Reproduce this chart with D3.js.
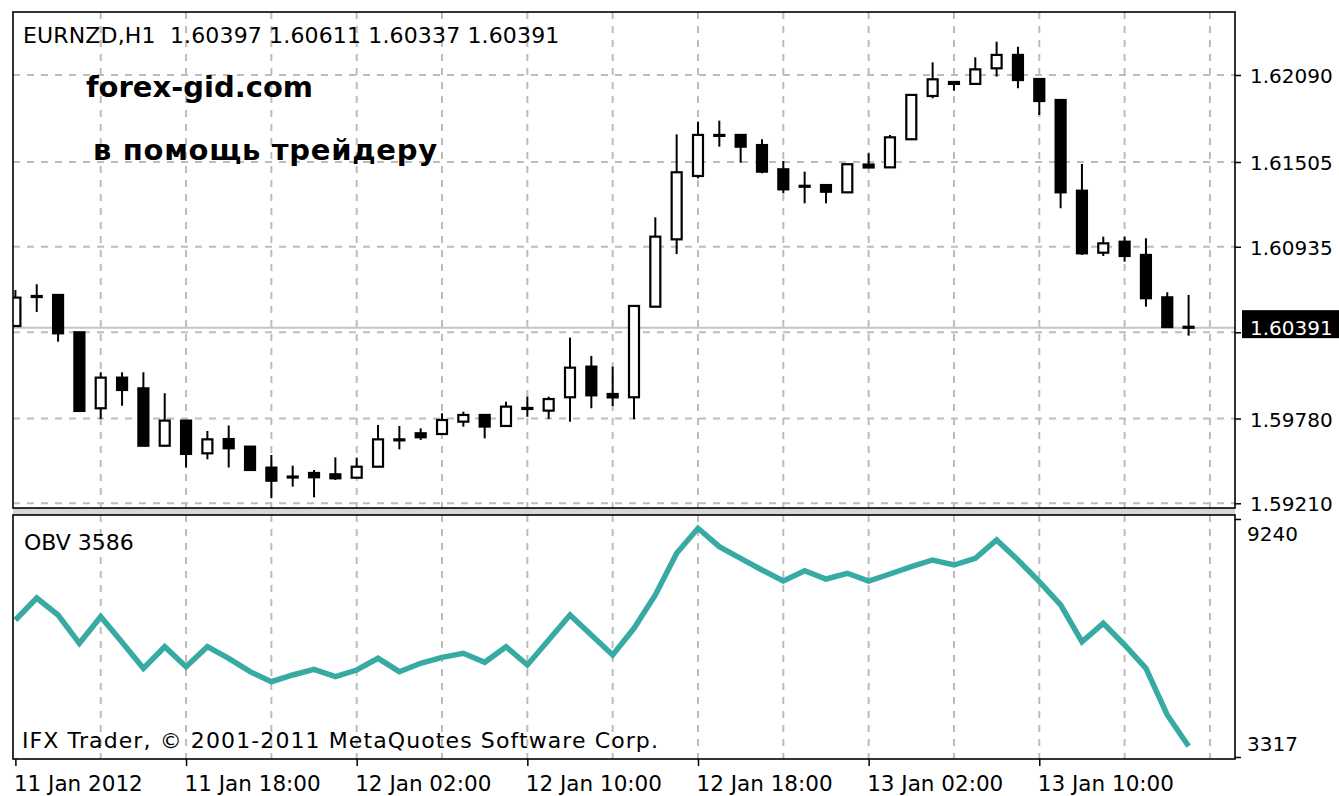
<!DOCTYPE html>
<html>
<head>
<meta charset="utf-8">
<script src="https://cdn.jsdelivr.net/npm/d3@7"></script>
<style>
body { margin: 0; background: #fff; }
svg { display: block; }
text { font-family: "DejaVu Sans", sans-serif; fill: #000; }
</style>
</head>
<body>
<svg width="1339" height="796"></svg>
<script>
// EURNZD H1, 11 Jan 10:00 .. 13 Jan 17:00 (56 bars)
const OPEN = [1.60402, 1.60597, 1.60611, 1.60360, 1.59849, 1.60055, 1.59983, 1.59597, 1.59766, 1.59546,
	1.59642, 1.59591, 1.59450, 1.59390, 1.59414, 1.59405, 1.59382, 1.59456, 1.59636, 1.59681,
	1.59676, 1.59759, 1.59804, 1.59730, 1.59848, 1.59833, 1.59923, 1.60129, 1.59945, 1.59923,
	1.60532, 1.60985, 1.61411, 1.61683, 1.61687, 1.61619, 1.61456, 1.61345, 1.61350, 1.61301,
	1.61488, 1.61469, 1.61658, 1.61949, 1.62043, 1.62030, 1.62135, 1.62225, 1.62063, 1.61922,
	1.61312, 1.60895, 1.60969, 1.60880, 1.60595, 1.60397];
const HIGH = [1.60644, 1.60683, 1.60615, 1.60362, 1.60091, 1.60091, 1.60091, 1.59950, 1.59768, 1.59696,
	1.59733, 1.59593, 1.59535, 1.59463, 1.59434, 1.59519, 1.59517, 1.59737, 1.59730, 1.59714,
	1.59815, 1.59826, 1.59806, 1.59893, 1.59927, 1.59927, 1.60324, 1.60201, 1.60129, 1.60540,
	1.61133, 1.61691, 1.61776, 1.61783, 1.61690, 1.61658, 1.61512, 1.61440, 1.61352, 1.61492,
	1.61564, 1.61687, 1.61958, 1.62175, 1.62045, 1.62209, 1.62314, 1.62280, 1.62065, 1.61924,
	1.61492, 1.61003, 1.61003, 1.60992, 1.60629, 1.60611];
const LOW = [1.60396, 1.60496, 1.60297, 1.59828, 1.59777, 1.59866, 1.59594, 1.59594, 1.59450, 1.59506,
	1.59451, 1.59432, 1.59244, 1.59322, 1.59250, 1.59367, 1.59380, 1.59454, 1.59573, 1.59636,
	1.59674, 1.59725, 1.59647, 1.59728, 1.59792, 1.59777, 1.59759, 1.59849, 1.59864, 1.59775,
	1.60530, 1.60886, 1.61395, 1.61608, 1.61500, 1.61429, 1.61295, 1.61227, 1.61227, 1.61299,
	1.61466, 1.61467, 1.61653, 1.61933, 1.61984, 1.62028, 1.62079, 1.62001, 1.61821, 1.61194,
	1.60880, 1.60873, 1.60835, 1.60532, 1.60393, 1.60337];
const CLOSE = [1.60593, 1.60604, 1.60353, 1.59831, 1.60055, 1.59972, 1.59597, 1.59766, 1.59542, 1.59640,
	1.59580, 1.59434, 1.59362, 1.59388, 1.59385, 1.59378, 1.59456, 1.59640, 1.59640, 1.59654,
	1.59770, 1.59804, 1.59726, 1.59860, 1.59851, 1.59911, 1.60122, 1.59936, 1.59922, 1.60537,
	1.61003, 1.61436, 1.61687, 1.61687, 1.61608, 1.61440, 1.61321, 1.61342, 1.61305, 1.61490,
	1.61468, 1.61671, 1.61956, 1.62061, 1.62030, 1.62128, 1.62225, 1.62056, 1.61915, 1.61301,
	1.60891, 1.60958, 1.60873, 1.60589, 1.60395, 1.60391];
const OBV = [6727, 7274, 6851, 6147, 6809, 6172, 5524, 6062, 5564, 6062,
	5773, 5440, 5191, 5358, 5500, 5315, 5482, 5773, 5440, 5649,
	5798, 5898, 5674, 6062, 5607, 6229, 6851, 6353, 5855, 6520,
	7349, 8387, 9009, 8551, 8262, 7971, 7697, 7953, 7747, 7889,
	7697, 7871, 8053, 8220, 8095, 8262, 8717, 8220, 7680, 7100,
	6186, 6644, 6104, 5524, 4362, 3586];

const PRICE_LEVELS = [1.62090, 1.61505, 1.60935, 1.60360, 1.59780, 1.59210];
const HIDDEN_LEVEL = 1.60360;   // its label sits under the current price box
const OBV_LEVELS = [9240, 3317];
const TIME_LABELS = ['11 Jan 2012', '11 Jan 18:00', '12 Jan 02:00', '12 Jan 10:00',
	'12 Jan 18:00', '13 Jan 02:00', '13 Jan 10:00'];
const TIME_LABEL_BARS = [0, 8, 16, 24, 32, 40, 48];

const LEFT = 13, RIGHT = 1235;
const MAIN_TOP = 12, MAIN_BOTTOM = 508;
const OBV_TOP = 515, OBV_BOTTOM = 759;
const GRID = '#bdbdbd';

const svg = d3.select('svg');
const fmt = d3.format('.5f');
const n = CLOSE.length;

let x = d3.scaleLinear().domain([0, n - 1]).range([15.4, 1188.6]);
let y = d3.scaleLinear().domain([1.59210, 1.62090]).range([503.3, 75]);
let yObv = d3.scaleLinear().domain([OBV_LEVELS[1], OBV_LEVELS[0]]).range([757, 519]);

svg.append('defs').append('clipPath').attr('id', 'clipMain')
	.append('rect').attr('x', LEFT).attr('y', MAIN_TOP)
	.attr('width', RIGHT - LEFT).attr('height', MAIN_BOTTOM - MAIN_TOP);
svg.select('defs').append('clipPath').attr('id', 'clipObv')
	.append('rect').attr('x', LEFT).attr('y', OBV_TOP)
	.attr('width', RIGHT - LEFT).attr('height', OBV_BOTTOM - OBV_TOP);

// separator band between the two windows
svg.append('rect').attr('x', LEFT).attr('y', MAIN_BOTTOM)
	.attr('width', RIGHT - LEFT).attr('height', OBV_TOP - MAIN_BOTTOM)
	.attr('fill', '#d6d6d6');

// grid
let vBars = d3.range(4, n + 1, 4);
let grid = svg.append('g').attr('stroke', GRID).attr('stroke-width', 2)
	.attr('stroke-dasharray', '7,7').attr('fill', 'none');
grid.selectAll('.hg').data(PRICE_LEVELS).enter().append('line')
	.attr('x1', LEFT).attr('x2', RIGHT)
	.attr('y1', d => y(d)).attr('y2', d => y(d));
grid.selectAll('.vm').data(vBars).enter().append('line')
	.attr('x1', d => x(d)).attr('x2', d => x(d))
	.attr('y1', MAIN_TOP).attr('y2', MAIN_BOTTOM);
grid.selectAll('.vo').data(vBars).enter().append('line')
	.attr('x1', d => x(d)).attr('x2', d => x(d))
	.attr('y1', OBV_TOP).attr('y2', OBV_BOTTOM);

// current price line
let last = CLOSE[n - 1];
svg.append('line').attr('x1', LEFT).attr('x2', RIGHT)
	.attr('y1', y(last)).attr('y2', y(last))
	.attr('stroke', '#c4c4c4').attr('stroke-width', 2);

// candles
let bars = d3.range(n);
let candles = svg.append('g').attr('clip-path', 'url(#clipMain)');
candles.selectAll('.wick').data(bars).enter().append('line')
	.attr('x1', i => x(i)).attr('x2', i => x(i))
	.attr('y1', i => y(HIGH[i])).attr('y2', i => y(LOW[i]))
	.attr('stroke', '#000').attr('stroke-width', 2);
candles.selectAll('.body').data(bars).enter().append('rect')
	.attr('x', i => x(i) - 5)
	.attr('width', 10)
	.attr('y', i => y(Math.max(OPEN[i], CLOSE[i])))
	.attr('height', i => Math.max(1, Math.abs(y(OPEN[i]) - y(CLOSE[i]))))
	.attr('fill', i => CLOSE[i] >= OPEN[i] ? '#fff' : '#000')
	.attr('stroke', '#000').attr('stroke-width', 2.2);

// OBV line
let line = d3.line().x((d, i) => x(i)).y(d => yObv(d));
svg.append('path').attr('clip-path', 'url(#clipObv)')
	.attr('d', line(OBV))
	.attr('fill', 'none').attr('stroke', '#36aaa3').attr('stroke-width', 5.5)
	.attr('stroke-linejoin', 'miter');

// frames
svg.append('rect').attr('x', LEFT).attr('y', MAIN_TOP)
	.attr('width', RIGHT - LEFT).attr('height', MAIN_BOTTOM - MAIN_TOP)
	.attr('fill', 'none').attr('stroke', '#000').attr('stroke-width', 1.6);
svg.append('rect').attr('x', LEFT).attr('y', OBV_TOP)
	.attr('width', RIGHT - LEFT).attr('height', OBV_BOTTOM - OBV_TOP)
	.attr('fill', 'none').attr('stroke', '#000').attr('stroke-width', 1.6);

// price axis
let yAxis = d3.axisRight(y).tickValues(PRICE_LEVELS).tickSize(6)
	.tickFormat(d => d === HIDDEN_LEVEL ? '' : fmt(d));
let ya = svg.append('g').attr('transform', `translate(${RIGHT},0)`).call(yAxis);
ya.select('.domain').remove();
ya.selectAll('line').attr('stroke', '#000').attr('stroke-width', 1.5);
ya.selectAll('text').attr('x', 15).attr('dy', '0.38em')
	.style('font-family', '"DejaVu Sans", sans-serif').style('font-size', '20px');

// current price label
let pb = svg.append('g');
pb.append('rect').attr('x', 1242).attr('y', y(last) - 17.5)
	.attr('width', 97).attr('height', 28).attr('fill', '#000');
pb.append('text').attr('x', 1250).attr('y', y(last) + 7.5)
	.style('font-size', '20px').style('fill', '#fff').text(fmt(last));

// OBV axis
let oAxis = d3.axisRight(yObv).tickValues(OBV_LEVELS).tickSize(6).tickFormat(d3.format('d'));
let oa = svg.append('g').attr('transform', `translate(${RIGHT},0)`).call(oAxis);
oa.select('.domain').remove();
oa.selectAll('line').attr('stroke', '#000').attr('stroke-width', 1.5);
oa.selectAll('text').attr('x', 12).attr('dy', 0)
	.attr('y', d => d === OBV_LEVELS[0] ? 21 : -7)
	.style('font-family', '"DejaVu Sans", sans-serif').style('font-size', '20px');

// time axis
let xAxis = d3.axisBottom(x).tickValues(TIME_LABEL_BARS).tickSize(7)
	.tickFormat((d, i) => TIME_LABELS[i]);
let xa = svg.append('g').attr('transform', `translate(0,${OBV_BOTTOM})`).call(xAxis);
xa.select('.domain').remove();
xa.selectAll('line').attr('stroke', '#000').attr('stroke-width', 1.5);
xa.selectAll('text').attr('text-anchor', 'start').attr('x', -2).attr('y', 17)
	.style('font-family', '"DejaVu Sans", sans-serif').style('font-size', '21.5px');

// texts
svg.append('text').attr('x', 23).attr('y', 43).style('font-size', '22px')
	.style('white-space', 'pre').style('letter-spacing', '0.15px')
	.text(`EURNZD,H1  ${fmt(OPEN[n - 1])} ${fmt(HIGH[n - 1])} ${fmt(LOW[n - 1])} ${fmt(CLOSE[n - 1])}`);
svg.append('text').attr('x', 86).attr('y', 97)
	.style('font-size', '29px').style('font-weight', 'bold').text('forex-gid.com');
svg.append('text').attr('x', 93).attr('y', 160)
	.style('font-size', '29px').style('font-weight', 'bold').style('letter-spacing', '0.7px')
	.text('в помощь трейдеру');
svg.append('text').attr('x', 24).attr('y', 550).style('font-size', '22px')
	.text(`OBV ${OBV[n - 1]}`);
svg.append('text').attr('x', 22).attr('y', 748).style('font-size', '22px')
	.style('letter-spacing', '1.1px')
	.text('IFX Trader, © 2001-2011 MetaQuotes Software Corp.');
</script>
</body>
</html>
